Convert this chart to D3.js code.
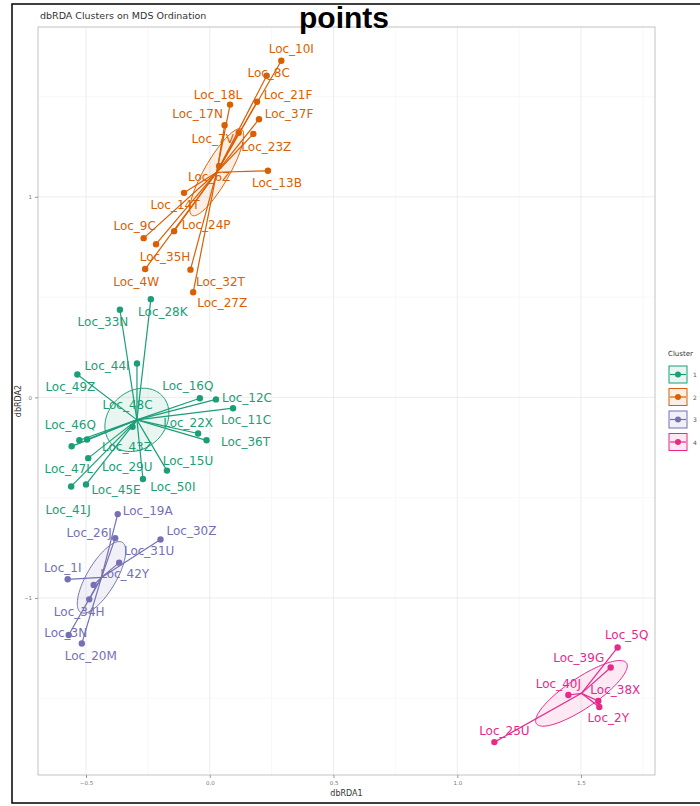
<!DOCTYPE html>
<html>
<head>
<meta charset="utf-8">
<script src="https://cdn.jsdelivr.net/npm/d3@7"></script>
<style>
body { margin: 0; background: #fff; }
text { font-family: "DejaVu Sans", sans-serif; }
</style>
</head>
<body>
<svg id="graph"></svg>
<script>
// cluster ids and their colours (Dark2)
const clusters = ['1', '2', '3', '4'];
const clusterColors = ['#1b9e77', '#d95f02', '#7570b3', '#e7298a'];

// cluster 1
const names1 = ['Loc_28K','Loc_33N','Loc_44I','Loc_49Z','Loc_16Q','Loc_12C','Loc_11C','Loc_48C','Loc_22X','Loc_36T','Loc_46Q','Loc_47L','Loc_43Z','Loc_29U','Loc_15U','Loc_50I','Loc_45E','Loc_41J'];
const rda1_1 = [-0.238,-0.363,-0.294,-0.535,-0.040,0.025,0.094,-0.312,-0.047,-0.013,-0.527,-0.558,-0.496,-0.491,-0.173,-0.270,-0.500,-0.560];
const rda2_1 = [0.490,0.437,0.169,0.114,-0.004,-0.010,-0.054,-0.147,-0.180,-0.214,-0.214,-0.244,-0.210,-0.303,-0.365,-0.407,-0.434,-0.444];

// cluster 2
const names2 = ['Loc_10I','Loc_8C','Loc_21F','Loc_18L','Loc_37F','Loc_17N','Loc_7V','Loc_23Z','Loc_13B','Loc_6Z','Loc_14T','Loc_9C','Loc_24P','Loc_35H','Loc_4W','Loc_32T','Loc_27Z'];
const rda1_2 = [0.289,0.230,0.191,0.082,0.199,0.060,0.117,0.176,0.235,0.038,-0.104,-0.267,-0.144,-0.217,-0.261,-0.078,-0.067];
const rda2_2 = [1.679,1.604,1.474,1.460,1.387,1.357,1.320,1.314,1.130,1.154,1.020,0.794,0.829,0.764,0.640,0.637,0.524];

// cluster 3
const names3 = ['Loc_19A','Loc_26J','Loc_30Z','Loc_31U','Loc_1I','Loc_42Y','Loc_34H','Loc_3N','Loc_20M'];
const rda1_3 = [-0.372,-0.382,-0.199,-0.366,-0.574,-0.469,-0.487,-0.570,-0.517];
const rda2_3 = [-0.582,-0.702,-0.709,-0.824,-0.907,-0.935,-1.007,-1.185,-1.227];

// cluster 4
const names4 = ['Loc_5Q','Loc_39G','Loc_40J','Loc_38X','Loc_2Y','Loc_25U'];
const rda1_4 = [1.648,1.620,1.449,1.570,1.574,1.150];
const rda2_4 = [-1.247,-1.347,-1.484,-1.514,-1.544,-1.719];

// axis ticks
const xTicks = [-0.5, 0, 0.5, 1, 1.5];
const yTicks = [-1, 0, 1];
const xMinor = [-0.25, 0.25, 0.75, 1.25, 1.75];
const yMinor = [-1.5, -0.5, 0.5, 1.5];

// label placement (px offset of label centre from its point, like ggrepel did)
const labelNudge = {
  Loc_10I:[10,-12], Loc_8C:[2,-3], Loc_21F:[31,-7], Loc_18L:[-12,-10], Loc_37F:[30,-5],
  Loc_17N:[-27,-11], Loc_7V:[-26,6], Loc_23Z:[13,13], Loc_13B:[9,12], Loc_6Z:[-10,11],
  Loc_14T:[-9,12], Loc_9C:[-9,-12], Loc_24P:[32,-6], Loc_35H:[9,13], Loc_4W:[-9,13],
  Loc_32T:[30,12], Loc_27Z:[29,11],
  Loc_28K:[12,13], Loc_33N:[-17,12], Loc_44I:[-30,3], Loc_49Z:[-7,12], Loc_16Q:[-12,-12],
  Loc_12C:[31,-1], Loc_11C:[13,12], Loc_48C:[-5,-22], Loc_22X:[-10,-10], Loc_36T:[39,2],
  Loc_46Q:[-9,-15], Loc_47L:[-3,23], Loc_43Z:[40,7], Loc_29U:[39,9], Loc_15U:[21,-10],
  Loc_50I:[30,8], Loc_45E:[30,6], Loc_41J:[-3,24],
  Loc_19A:[30,-3], Loc_26J:[-26,-5], Loc_30Z:[31,-9], Loc_31U:[30,-12], Loc_1I:[-5,-11],
  Loc_42Y:[31,-11], Loc_34H:[-10,13], Loc_3N:[-3,-2], Loc_20M:[9,13],
  Loc_5Q:[9,-12], Loc_39G:[-32,-10], Loc_40J:[-10,-11], Loc_38X:[17,-11], Loc_2Y:[9,11], Loc_25U:[10,-11]
};

// build one table from the arrays
const groups = [
  {id: clusters[0], names: names1, xs: rda1_1, ys: rda2_1},
  {id: clusters[1], names: names2, xs: rda1_2, ys: rda2_2},
  {id: clusters[2], names: names3, xs: rda1_3, ys: rda2_3},
  {id: clusters[3], names: names4, xs: rda1_4, ys: rda2_4}
];
groups.forEach((g, gi) => {
  g.color = clusterColors[gi];
  g.points = g.names.map((n, i) => ({name: n, x: g.xs[i], y: g.ys[i]}));
  g.cx = d3.mean(g.xs);
  g.cy = d3.mean(g.ys);
});

// dimensions
const width = 700;
const height = 806;
const panel = {left: 38, right: 655, top: 27, bottom: 775};

const graph = d3.select('#graph')
graph
.attr('width', width)
.attr('height', height)

// scales
const x_scale = d3.scaleLinear().domain([-0.694, 1.799]).range([panel.left, panel.right])
const y_scale = d3.scaleLinear().domain([-1.883, 1.847]).range([panel.bottom, panel.top])

// outer frame
graph.append('rect')
.attr('x', 12).attr('y', 4).attr('width', 700).attr('height', 799)
.attr('fill', 'none').attr('stroke', '#000').attr('stroke-width', 1.5)

// panel + grid
graph.append('rect')
.attr('x', panel.left).attr('y', panel.top)
.attr('width', panel.right - panel.left).attr('height', panel.bottom - panel.top)
.attr('fill', '#fff')

const grid = graph.append('g')
grid.selectAll('.vminor').data(xMinor).enter().append('line')
.attr('x1', d => x_scale(d)).attr('x2', d => x_scale(d))
.attr('y1', panel.top).attr('y2', panel.bottom)
.attr('stroke', '#f3f3f3').attr('stroke-width', 0.6)
grid.selectAll('.hminor').data(yMinor).enter().append('line')
.attr('y1', d => y_scale(d)).attr('y2', d => y_scale(d))
.attr('x1', panel.left).attr('x2', panel.right)
.attr('stroke', '#f3f3f3').attr('stroke-width', 0.6)
grid.selectAll('.vmajor').data(xTicks).enter().append('line')
.attr('x1', d => x_scale(d)).attr('x2', d => x_scale(d))
.attr('y1', panel.top).attr('y2', panel.bottom)
.attr('stroke', '#e8e8e8').attr('stroke-width', 0.8)
grid.selectAll('.hmajor').data(yTicks).enter().append('line')
.attr('y1', d => y_scale(d)).attr('y2', d => y_scale(d))
.attr('x1', panel.left).attr('x2', panel.right)
.attr('stroke', '#e8e8e8').attr('stroke-width', 0.8)

graph.append('rect')
.attr('x', panel.left).attr('y', panel.top)
.attr('width', panel.right - panel.left).attr('height', panel.bottom - panel.top)
.attr('fill', 'none').attr('stroke', '#b3b3b3').attr('stroke-width', 0.8)

// axes
const x_axis = d3.axisBottom(x_scale).tickValues(xTicks).tickFormat(d3.format('.1f')).tickSize(3).tickPadding(3)
const y_axis = d3.axisLeft(y_scale).tickValues(yTicks).tickFormat(d3.format('d')).tickSize(3).tickPadding(3)

const gx = graph.append('g')
.attr('transform', `translate(0,${panel.bottom})`)
.call(x_axis)
const gy = graph.append('g')
.attr('transform', `translate(${panel.left},0)`)
.call(y_axis)
;[gx, gy].forEach(g => {
  g.select('.domain').remove()
  g.selectAll('line').attr('stroke', '#999')
  g.selectAll('text').attr('fill', '#777').style('font-size', '5.5px')
})

graph.append('text')
.attr('x', (panel.left + panel.right) / 2).attr('y', 796)
.attr('text-anchor', 'middle').style('font-size', '8px').attr('fill', '#333')
.text('dbRDA1')
graph.append('text')
.attr('transform', `translate(21,${(panel.top + panel.bottom) / 2}) rotate(-90)`)
.attr('text-anchor', 'middle').style('font-size', '8px').attr('fill', '#333')
.text('dbRDA2')

// 95% confidence ellipse of the centroid (like ordiellipse kind = "se")
function seEllipse(g) {
  const n = g.xs.length;
  let sxx = 0, syy = 0, sxy = 0;
  g.xs.forEach((x, i) => {
    const dx = x - g.cx, dy = g.ys[i] - g.cy;
    sxx += dx * dx; syy += dy * dy; sxy += dx * dy;
  })
  sxx /= (n - 1); syy /= (n - 1); sxy /= (n - 1);
  const tr = sxx + syy, det = sxx * syy - sxy * sxy;
  const disc = Math.sqrt(Math.max(tr * tr / 4 - det, 0));
  const l1 = tr / 2 + disc, l2 = tr / 2 - disc;
  const ang = Math.atan2(l1 - sxx, sxy);
  const k = Math.sqrt(5.991) / Math.sqrt(n);
  const a = k * Math.sqrt(l1), b = k * Math.sqrt(Math.max(l2, 0));
  return d3.range(0, 121).map(i => {
    const t = 2 * Math.PI * i / 120;
    const u = a * Math.cos(t), v = b * Math.sin(t);
    return [g.cx + u * Math.cos(ang) - v * Math.sin(ang), g.cy + u * Math.sin(ang) + v * Math.cos(ang)];
  })
}

const line = d3.line().x(d => x_scale(d[0])).y(d => y_scale(d[1]))

graph.append('g').selectAll('path')
.data(groups).enter().append('path')
.attr('d', d => line(seEllipse(d)))
.attr('fill', d => d.color).attr('fill-opacity', 0.1)
.attr('stroke', d => d.color).attr('stroke-width', 1)

// spider lines to centroid
groups.forEach(g => {
  graph.append('g').selectAll('line')
  .data(g.points).enter().append('line')
  .attr('x1', d => x_scale(d.x)).attr('y1', d => y_scale(d.y))
  .attr('x2', x_scale(g.cx)).attr('y2', y_scale(g.cy))
  .attr('stroke', g.color).attr('stroke-width', 1.2)
})

// points
groups.forEach(g => {
  graph.append('g').selectAll('circle')
  .data(g.points).enter().append('circle')
  .attr('cx', d => x_scale(d.x)).attr('cy', d => y_scale(d.y))
  .attr('r', 3.2).attr('fill', g.color)
})

// labels
groups.forEach(g => {
  graph.append('g').selectAll('text')
  .data(g.points).enter().append('text')
  .attr('x', d => x_scale(d.x) + labelNudge[d.name][0])
  .attr('y', d => y_scale(d.y) + labelNudge[d.name][1])
  .attr('text-anchor', 'middle').attr('dominant-baseline', 'central')
  .style('font-size', '12px').attr('fill', g.color)
  .text(d => d.name)
})

// legend
const legend = graph.append('g').attr('transform', 'translate(668,350)')
legend.append('text').attr('x', 0).attr('y', 6).style('font-size', '7px').attr('fill', '#333').text('Cluster')
const keys = legend.selectAll('.key').data(groups).enter().append('g')
.attr('transform', (d, i) => `translate(1,${16 + i * 22.5})`)
keys.append('rect').attr('width', 18).attr('height', 17)
.attr('fill', d => d.color).attr('fill-opacity', 0.1)
.attr('stroke', d => d.color).attr('stroke-width', 1)
keys.append('line').attr('x1', 1).attr('x2', 17).attr('y1', 8.5).attr('y2', 8.5)
.attr('stroke', d => d.color).attr('stroke-width', 1.2)
keys.append('circle').attr('cx', 9).attr('cy', 8.5).attr('r', 3).attr('fill', d => d.color)
keys.append('text').attr('x', 24).attr('y', 11).style('font-size', '6px').attr('fill', '#555').text(d => d.id)

// titles
graph.append('text')
.attr('x', 40).attr('y', 19).style('font-size', '9.5px').attr('fill', '#333')
.text('dbRDA Clusters on MDS Ordination')
graph.append('text')
.attr('x', 344).attr('y', 28).attr('text-anchor', 'middle')
.style('font-family', '"Liberation Sans", Arial, sans-serif').style('font-weight', 'bold').style('font-size', '30px')
.attr('fill', '#000')
.text('points')
</script>
</body>
</html>
